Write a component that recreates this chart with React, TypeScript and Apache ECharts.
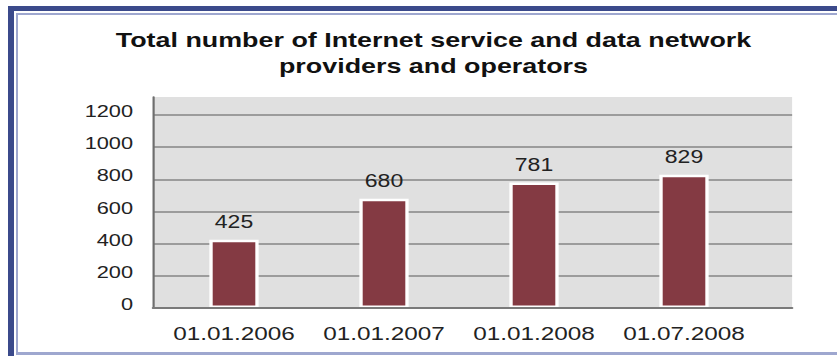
import React, { useEffect, useRef } from "react";
import * as echarts from "echarts";

// ---- data ----
const categories = ["01.01.2006", "01.01.2007", "01.01.2008", "01.07.2008"];
const providers = [425, 680, 781, 829];
const yMin = 0;
const yMax = 1200;
const yInterval = 200;
const titleText =
  "Total number of Internet service and data network\nproviders and operators";

// the reference picture is stretched horizontally; render narrower and stretch
const S = 1.28;
const PW = 837;
const PH = 356;
const CW = PW / S;
const cx = (x: number) => x / S;

const FONT = "'Liberation Sans', Arial, sans-serif";

export default function App() {
  const ref = useRef<HTMLDivElement>(null);

  useEffect(() => {
    if (!ref.current) return;
    const chart = echarts.init(ref.current, undefined, { renderer: "svg" });

    const plotLeft = cx(153);
    const plotRight = CW - cx(792);
    const barLeft = cx(159);
    const barWidthArea = cx(600);

    chart.setOption({
      animation: false,
      backgroundColor: "#ffffff",
      textStyle: { fontFamily: FONT },
      title: {
        text: titleText,
        left: cx(433.5),
        top: 27,
        padding: 0,
        textAlign: "center",
        textStyle: {
          fontFamily: FONT,
          fontSize: 21,
          fontWeight: "bold",
          lineHeight: 26,
          color: "#111111",
        },
      },
      grid: [
        // frame of the plot area (background + axis lines)
        {
          left: plotLeft,
          right: plotRight,
          top: 97,
          bottom: PH - 308,
          show: true,
          backgroundColor: "#e0e0e0",
          borderWidth: 0,
        },
        // value scale with gridlines and tick labels
        {
          left: plotLeft,
          right: plotRight,
          top: 115,
          bottom: PH - 308,
        },
        // bars
        {
          left: barLeft,
          width: barWidthArea,
          top: 115,
          bottom: PH - 308,
        },
      ],
      xAxis: [
        {
          gridIndex: 0,
          type: "category",
          data: [""],
          z: 3,
          axisLine: { show: true, lineStyle: { color: "#7a7a7a", width: 2 } },
          axisTick: { show: false },
          axisLabel: { show: false },
          splitLine: { show: false },
        },
        {
          gridIndex: 1,
          type: "category",
          data: [""],
          show: false,
        },
        {
          gridIndex: 2,
          type: "category",
          data: categories,
          axisLine: { show: false },
          axisTick: { show: false },
          axisLabel: {
            interval: 0,
            fontFamily: FONT,
            fontSize: 19,
            color: "#222222",
            margin: 16,
          },
        },
      ],
      yAxis: [
        {
          gridIndex: 0,
          type: "value",
          min: 0,
          max: 1,
          z: 3,
          axisLine: { show: true, lineStyle: { color: "#6e6e6e", width: 1.7 } },
          axisTick: { show: false },
          axisLabel: { show: false },
          splitLine: { show: false },
        },
        {
          gridIndex: 1,
          type: "value",
          min: yMin,
          max: yMax,
          interval: yInterval,
          z: 1,
          axisLine: { show: false },
          axisTick: { show: false },
          axisLabel: {
            formatter: (v: number) => String(v),
            fontFamily: FONT,
            fontSize: 17,
            color: "#222222",
            margin: 15.6,
            verticalAlign: "bottom",
            lineHeight: 8,
          },
          splitLine: { show: true, lineStyle: { color: "#9c9c9c", width: 2 } },
        },
        {
          gridIndex: 2,
          type: "value",
          min: yMin,
          max: yMax,
          interval: yInterval,
          show: false,
          splitLine: { show: false },
        },
      ],
      series: [
        {
          type: "bar",
          xAxisIndex: 2,
          yAxisIndex: 2,
          data: providers,
          barWidth: 38.5,
          z: 2,
          itemStyle: {
            color: "#843a43",
            borderColor: "#ffffff",
            borderWidth: 2.6,
          },
          label: {
            show: true,
            position: "top",
            distance: 9,
            fontFamily: FONT,
            fontSize: 18,
            color: "#222222",
          },
        },
      ],
      graphic: [
        // dark blue outer frame
        { type: "rect", shape: { x: cx(8), y: 6, width: CW - cx(8), height: 5 }, style: { fill: "#3b4a8b" }, silent: true },
        { type: "rect", shape: { x: cx(8), y: 6, width: cx(6), height: PH - 6 }, style: { fill: "#3b4a8b" }, silent: true },
        // light inner frame
        { type: "rect", shape: { x: cx(16), y: 13, width: CW - cx(16), height: 2 }, style: { fill: "#9ea7cf" }, silent: true },
        { type: "rect", shape: { x: cx(16), y: 13, width: cx(2), height: 341 }, style: { fill: "#9ea7cf" }, silent: true },
        { type: "rect", shape: { x: cx(16), y: 352, width: CW - cx(16), height: 3 }, style: { fill: "#9ea7cf" }, silent: true },
      ],
    });

    return () => chart.dispose();
  }, []);

  return (
    <div
      style={{
        position: "fixed",
        left: 0,
        top: 0,
        width: PW,
        height: PH,
        overflow: "hidden",
        background: "#ffffff",
      }}
    >
      <div
        ref={ref}
        style={{
          width: CW,
          height: PH,
          transform: `scaleX(${S})`,
          transformOrigin: "0 0",
        }}
      />
    </div>
  );
}
